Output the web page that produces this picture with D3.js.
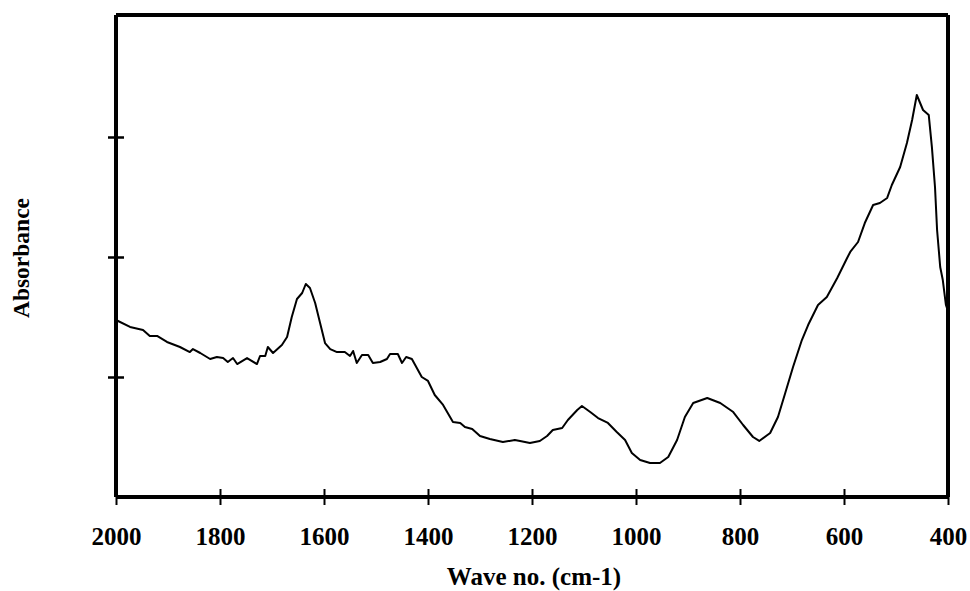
<!DOCTYPE html>
<html>
<head>
<meta charset="utf-8">
<script src="https://cdn.jsdelivr.net/npm/d3@7"></script>
<style>
  html, body { margin: 0; padding: 0; background: #fff; }
  svg { display: block; }
</style>
</head>
<body>
<svg id="chart" width="970" height="591"></svg>
<script>
// ---- data ----
const waveNumbers = [2000,1973,1948,1935,1921,1902,1877,1858,1852,1838,1819,1806,1794,1785,1775,1767,1748,1729,1723,1713,1708,1698,1681,1671,1662,1652,1642,1635,1627,1617,1608,1598,1588,1575,1560,1550,1544,1537,1527,1515,1506,1492,1479,1473,1458,1450,1442,1431,1412,1400,1387,1371,1352,1338,1329,1315,1300,1281,1256,1233,1223,1204,1185,1171,1160,1142,1131,1113,1104,1088,1073,1054,1037,1021,1008,992,973,954,938,921,906,890,863,838,813,794,775,763,742,727,713,698,681,669,650,633,613,594,588,573,560,544,531,517,508,492,479,469,460,448,437,431,425,421,415,410,404,400];
const absorbance = [1.475,1.417,1.392,1.342,1.342,1.292,1.25,1.208,1.233,1.2,1.15,1.167,1.158,1.125,1.158,1.108,1.158,1.108,1.175,1.175,1.25,1.2,1.267,1.333,1.5,1.65,1.7,1.775,1.742,1.617,1.458,1.283,1.233,1.208,1.208,1.175,1.217,1.117,1.183,1.183,1.117,1.125,1.15,1.192,1.192,1.117,1.167,1.15,1.0,0.967,0.85,0.767,0.625,0.617,0.583,0.567,0.508,0.483,0.458,0.475,0.467,0.45,0.467,0.508,0.558,0.575,0.642,0.725,0.758,0.708,0.658,0.617,0.542,0.475,0.367,0.308,0.283,0.283,0.333,0.475,0.667,0.783,0.825,0.783,0.708,0.6,0.5,0.467,0.533,0.667,0.867,1.083,1.308,1.433,1.6,1.667,1.825,1.992,2.042,2.125,2.283,2.433,2.45,2.492,2.6,2.75,2.95,3.142,3.35,3.225,3.183,2.917,2.583,2.225,1.917,1.808,1.6,1.55];
const xTickValues = [2000,1800,1600,1400,1200,1000,800,600,400];
const yTickValues = [1,2,3];
const xTitle = "Wave no. (cm-1)";
const yTitle = "Absorbance";

// ---- layout ----
const svg = d3.select("#chart");
const pLeft = 116, pRight = 948, pTop = 15, pBottom = 497;

const x = d3.scaleLinear().domain([2000, 400]).range([pLeft, pRight]);
const y = d3.scaleLinear().domain([0, (pBottom - pTop) / 120]).range([pBottom, pTop]);

// curve
const pts = waveNumbers.map((w, i) => [w, absorbance[i]]);
svg.append("path")
  .datum(pts)
  .attr("fill", "none")
  .attr("stroke", "#000")
  .attr("stroke-width", 2)
  .attr("stroke-linejoin", "round")
  .attr("d", d3.line().x(d => x(d[0])).y(d => y(d[1])));

// frame top / right
svg.append("line").attr("x1", pLeft).attr("x2", pRight).attr("y1", pTop).attr("y2", pTop)
  .attr("stroke", "#000").attr("stroke-width", 4);
svg.append("line").attr("x1", pRight).attr("x2", pRight).attr("y1", pTop).attr("y2", pBottom)
  .attr("stroke", "#000").attr("stroke-width", 4);

// x axis
const gx = svg.append("g")
  .attr("transform", `translate(0,${pBottom})`)
  .call(d3.axisBottom(x).tickValues(xTickValues).tickFormat(d3.format("d")).tickSizeOuter(0).tickSizeInner(8));
gx.select(".domain").attr("stroke-width", 4).attr("d", `M${pLeft},0H${pRight}`);
gx.selectAll(".tick line").attr("y1", -8).attr("y2", 8).attr("stroke-width", 2);
gx.selectAll(".tick text")
  .attr("y", 48).attr("dy", 0)
  .attr("font-family", "'Liberation Serif', 'Times New Roman', serif")
  .attr("font-weight", "bold")
  .attr("font-size", 25)
  .attr("fill", "#000");

// y axis
const gy = svg.append("g")
  .attr("transform", `translate(${pLeft},0)`)
  .call(d3.axisLeft(y).tickValues(yTickValues).tickFormat("").tickSizeOuter(0).tickSizeInner(8));
gy.select(".domain").attr("stroke-width", 4).attr("d", `M0,${pTop}V${pBottom}`);
gy.selectAll(".tick line").attr("x1", -8).attr("x2", 8).attr("stroke-width", 2.5);

// titles
svg.append("text")
  .attr("x", 534).attr("y", 585)
  .attr("text-anchor", "middle")
  .attr("font-family", "'Liberation Serif', 'Times New Roman', serif")
  .attr("font-weight", "bold")
  .attr("font-size", 25)
  .text(xTitle);

svg.append("text")
  .attr("transform", "translate(29,258) rotate(-90)")
  .attr("text-anchor", "middle")
  .attr("font-family", "'Liberation Serif', 'Times New Roman', serif")
  .attr("font-weight", "bold")
  .attr("font-size", 23.5)
  .text(yTitle);
</script>
</body>
</html>
